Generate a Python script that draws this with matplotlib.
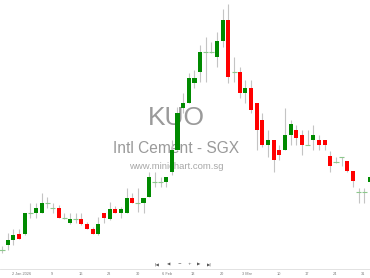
import matplotlib
matplotlib.use("Agg")
import matplotlib.pyplot as plt
import numpy as np

# OHLC values (chart units)
opens  = [19,24,29,35,35,56,56,56,66,61,61,51,46,50,50,45,40,35,56,50,
          60,56,56,71,66,66,72,87,87,87,97,119,161,166,186,197,217,217,212,228,
          249,197,197,176,181,166,149,124,129,119,119,134,139,134,124,129,129,129,113,107,
          112,108,98,77,77,87]
closes = [19,29,34,30,56,56,61,66,66,61,51,51,50,50,45,40,35,45,51,60,
          56,60,71,66,66,71,92,87,87,92,119,156,166,191,191,217,217,217,228,249,
          192,197,176,181,159,139,124,129,109,114,134,145,131,124,124,134,124,124,103,107,
          112,98,88,77,77,92]
highs  = [23,36,40,40,56,66,66,76,72,66,64,56,56,56,56,47,42,52,56,67,
          63,62,81,76,81,71,97,97,92,92,129,162,176,196,199,224,232,227,237,260,
          265,212,202,189,189,166,156,139,129,124,161,149,144,139,139,144,134,129,118,112,
          112,108,98,81,81,94]
lows   = [16,19,24,30,34,51,51,56,61,56,51,50,45,46,44,40,35,34,46,49,
          56,51,56,66,57,56,72,82,82,82,94,119,156,166,181,187,187,216,202,222,
          186,187,171,166,156,119,122,112,97,109,119,124,124,114,124,119,119,119,97,106,
          103,97,82,66,66,86]

tick_pos = [3.5, 8.8, 14.0, 18.9, 24.0, 29.2, 33.7, 38.9, 43.3, 48.9, 53.9, 58.8, 63.8]
tick_labels = ["2 Jan 2026", "9", "16", "23", "30", "6 Feb", "13", "20",
               "3 Mar", "10", "17", "24", "31"]

GREEN = "#008a00"
RED = "#ff0000"
CROSS = "#8cc88c"
WICK = "#c4c4c4"

fig = plt.figure(figsize=(3.7, 2.78), dpi=100)
ax = fig.add_axes([0, 9/278, 1, 269/278])

o = np.array(opens, float)
c = np.array(closes, float)
h = np.array(highs, float)
l = np.array(lows, float)
x = np.arange(len(o))

ax.vlines(x, l, h, color=WICK, lw=0.8, zorder=2)
up = c > o
dn = c < o
eq = c == o
ax.bar(x[up], (c - o)[up], bottom=o[up], width=0.72, color=GREEN, lw=0, zorder=3)
ax.bar(x[dn], (c - o)[dn], bottom=o[dn], width=0.72, color=RED, lw=0, zorder=3)
ax.hlines(o[eq], x[eq] - 0.45, x[eq] + 0.45, color=CROSS, lw=0.8, zorder=3)

ax.set_xlim(-0.35, 65.0)
ax.set_ylim(0, 269)
ax.set_yticks([])
for s in ["top", "left", "right"]:
    ax.spines[s].set_visible(False)
ax.spines["bottom"].set_color("#dddddd")
ax.spines["bottom"].set_linewidth(0.6)
ax.set_xticks(tick_pos)
ax.set_xticklabels(tick_labels, fontsize=2.8, color="#777777", family="Liberation Sans")
ax.tick_params(axis="x", length=0, pad=2)

tf = fig.transFigure
ax.text(176/370, 1 - 125/278, "KUO", ha="center", va="baseline", transform=tf,
        fontsize=19, color="#9a9a9a", family="Liberation Sans", zorder=0)
ax.text(176/370, 1 - 153/278, "Intl Cement - SGX", ha="center", va="baseline", transform=tf,
        fontsize=11.2, color="#9a9a9a", family="Liberation Sans", zorder=0)
ax.text(176/370, 1 - 169/278, "www.minichart.com.sg", ha="center", va="baseline", transform=tf,
        fontsize=6.8, color="#a8a8a8", family="Liberation Sans", zorder=0)

nav = [(157, "|◀"), (169, "◀"), (179, "−"), (189, "+"), (199, "▶"), (209, "▶|")]
for px, t in nav:
    fig.text(px/370, 1 - 264/278, t, ha="center", va="center", fontsize=3.2,
             color="#555555", family="DejaVu Sans")

fig.savefig("out.png", dpi=100)
